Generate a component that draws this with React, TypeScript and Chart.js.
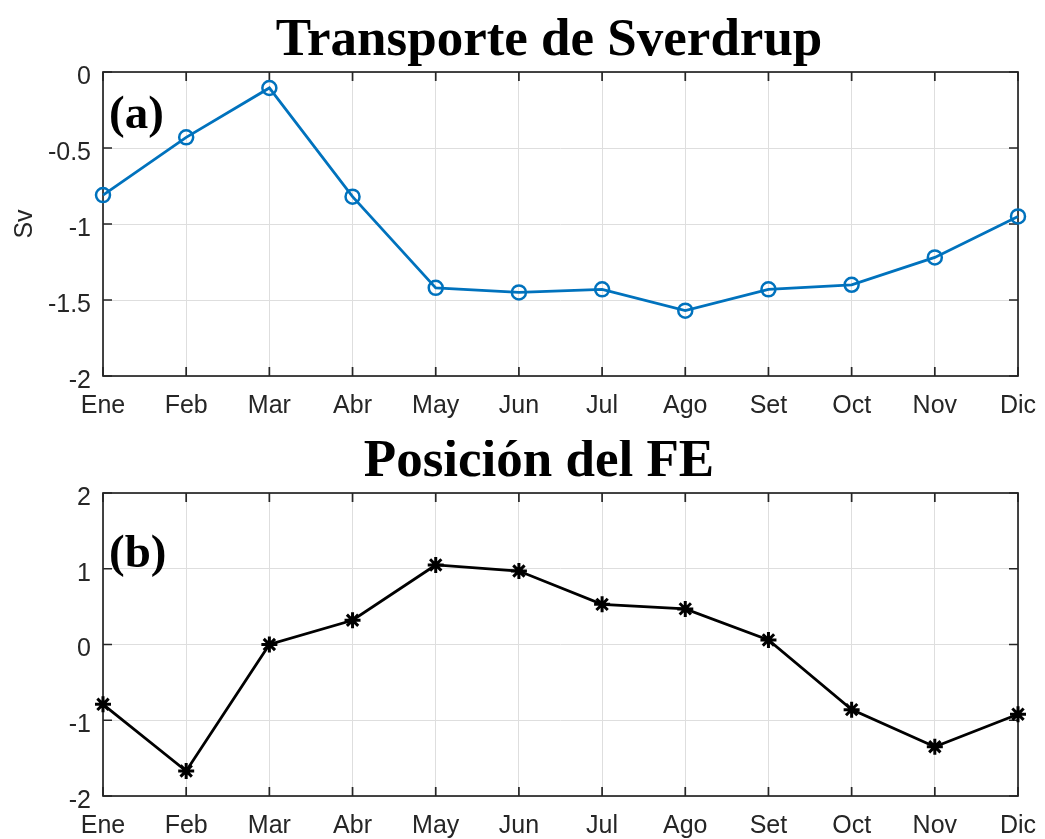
import React, { useEffect, useRef } from "react";
import { Chart, registerables } from "chart.js";

Chart.register(...registerables);

const months = ["Ene", "Feb", "Mar", "Abr", "May", "Jun", "Jul", "Ago", "Set", "Oct", "Nov", "Dic"];
const sverdrup = [-0.81, -0.43, -0.105, -0.82, -1.42, -1.45, -1.43, -1.57, -1.43, -1.4, -1.22, -0.95];
const fePosition = [-0.79, -1.67, 0.0, 0.32, 1.05, 0.97, 0.53, 0.47, 0.06, -0.86, -1.35, -0.92];
const sverdrupTicks = [0, -0.5, -1, -1.5, -2];
const feTicks = [2, 1, 0, -1, -2];

const AXIS = "#262626";
const GRID = "#dedede";
const SANS = '"Liberation Sans", Arial, sans-serif';
const SERIF = '"Liberation Serif", "Times New Roman", serif';

function matlabPlugin(title: string, titleX: number, titleY: number, panel: string, panelY: number) {
  return {
    id: "matlabAxes",
    beforeDatasetsDraw(chart: any) {
      const { ctx, chartArea } = chart;
      const { left, right, top, bottom } = chartArea;
      const xs = chart.scales.x;
      const ys = chart.scales.y;
      ctx.save();
      ctx.strokeStyle = AXIS;
      ctx.lineWidth = 1.7;
      ctx.strokeRect(left, top, right - left, bottom - top);
      ctx.beginPath();
      xs.ticks.forEach((_: any, i: number) => {
        const px = xs.getPixelForTick(i);
        ctx.moveTo(px, bottom);
        ctx.lineTo(px, bottom - 9);
        ctx.moveTo(px, top);
        ctx.lineTo(px, top + 9);
      });
      ys.ticks.forEach((_: any, i: number) => {
        const py = ys.getPixelForTick(i);
        ctx.moveTo(left, py);
        ctx.lineTo(left + 9, py);
        ctx.moveTo(right, py);
        ctx.lineTo(right - 9, py);
      });
      ctx.stroke();
      ctx.restore();
    },
    afterDraw(chart: any) {
      const { ctx } = chart;
      ctx.save();
      ctx.fillStyle = "#000";
      ctx.textBaseline = "alphabetic";
      ctx.font = `bold 53px ${SERIF}`;
      ctx.textAlign = "center";
      ctx.fillText(title, titleX, titleY);
      ctx.font = `bold 47px ${SERIF}`;
      ctx.textAlign = "left";
      ctx.fillText(panel, 109, panelY);
      ctx.restore();
    },
  };
}

function makeConfig(
  values: number[],
  ticks: number[],
  color: string,
  pointStyle: string,
  radius: number,
  pointWidth: number,
  yTitle: string | null,
  padTop: number,
  padBottom: number,
  xHeight: number,
  plugin: any
): any {
  const min = Math.min(...ticks);
  const max = Math.max(...ticks);
  return {
    type: "line",
    data: {
      labels: months,
      datasets: [
        {
          data: values,
          borderColor: color,
          borderWidth: 2.8,
          pointStyle,
          pointRadius: radius,
          pointBorderWidth: pointWidth,
          pointBackgroundColor: "rgba(0,0,0,0)",
          pointBorderColor: color,
          tension: 0,
          clip: false,
        },
      ],
    },
    options: {
      responsive: false,
      animation: false,
      events: [],
      layout: { padding: { left: 0, right: 27, top: padTop, bottom: padBottom } },
      plugins: { legend: { display: false }, tooltip: { enabled: false }, title: { display: false } },
      scales: {
        x: {
          type: "category",
          offset: false,
          grid: { color: GRID, lineWidth: 1, drawTicks: false },
          border: { display: false },
          ticks: { color: AXIS, font: { family: SANS, size: 25 }, padding: 15, maxRotation: 0, autoSkip: false },
          afterFit: (s: any) => {
            s.height = xHeight;
            s.paddingLeft = 0;
            s.paddingRight = 0;
          },
        },
        y: {
          type: "linear",
          min,
          max,
          grid: { color: GRID, lineWidth: 1, drawTicks: false },
          border: { display: false },
          ticks: {
            color: AXIS,
            font: { family: SANS, size: 25 },
            padding: 12,
            labelOffset: 5,
            callback: (v: any) => String(v),
          },
          afterBuildTicks: (s: any) => {
            s.ticks = ticks.map((v) => ({ value: v }));
          },
          afterFit: (s: any) => {
            s.width = 103;
            s.paddingTop = 0;
            s.paddingBottom = 0;
          },
          title: yTitle
            ? { display: true, text: yTitle, color: AXIS, font: { family: SANS, size: 25 }, padding: { top: 10, bottom: 0 } }
            : { display: false },
        },
      },
    },
    plugins: [plugin],
  };
}

export default function App() {
  const topRef = useRef<HTMLCanvasElement | null>(null);
  const botRef = useRef<HTMLCanvasElement | null>(null);

  useEffect(() => {
    const c1 = new Chart(
      topRef.current as HTMLCanvasElement,
      makeConfig(
        sverdrup,
        sverdrupTicks,
        "#0072BD",
        "circle",
        7,
        2.5,
        "Sv",
        72,
        14,
        50,
        matlabPlugin("Transporte de Sverdrup", 549, 55, "(a)", 128)
      )
    );
    const c2 = new Chart(
      botRef.current as HTMLCanvasElement,
      makeConfig(
        fePosition,
        feTicks,
        "#000000",
        "star",
        8,
        3,
        null,
        53,
        0,
        43,
        matlabPlugin("Posición del FE", 539, 36, "(b)", 127)
      )
    );
    return () => {
      c1.destroy();
      c2.destroy();
    };
  }, []);

  return (
    <div style={{ position: "absolute", left: 0, top: 0, width: 1045, height: 839, background: "#fff" }}>
      <canvas ref={topRef} width={1045} height={440} style={{ position: "absolute", left: 0, top: 0, display: "block" }} />
      <canvas ref={botRef} width={1045} height={399} style={{ position: "absolute", left: 0, top: 440, display: "block" }} />
    </div>
  );
}
